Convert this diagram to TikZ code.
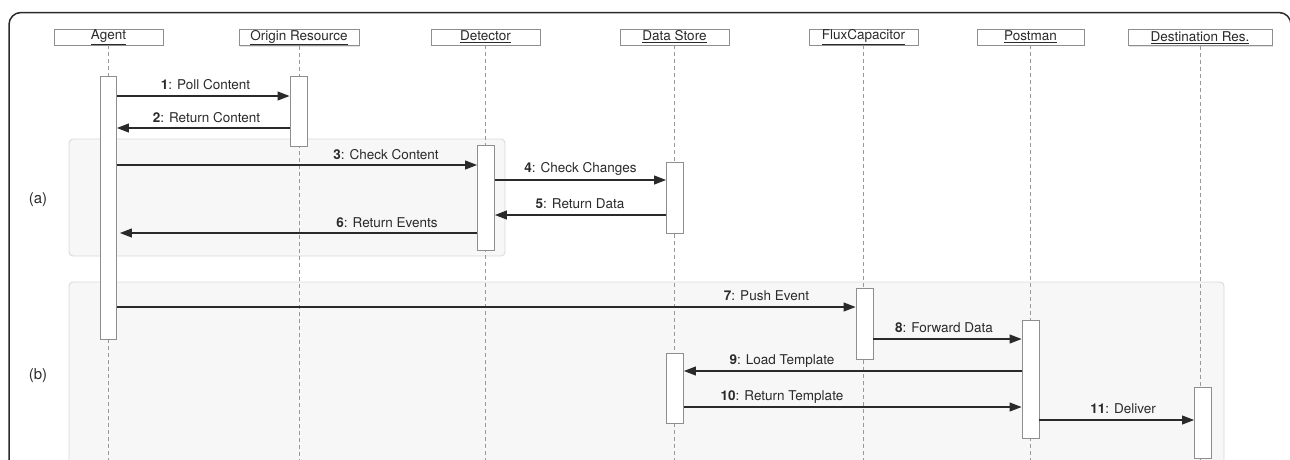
\documentclass[tikz,border=0pt]{standalone}
\usepackage{fontspec}
\setmainfont{TeX Gyre Heros}
\usetikzlibrary{arrows.meta,shadows}
\definecolor{boxGray}{HTML}{8E8E8E}
\definecolor{groupFill}{HTML}{F7F7F7}
\definecolor{groupEdge}{HTML}{DADADA}
\definecolor{inkDark}{HTML}{2A2A2A}

\begin{document}
\begin{tikzpicture}[
  x=1pt, y=-1pt,
  font=\fontsize{13.5}{16}\selectfont,
  frame/.style={draw=inkDark, line width=1.5pt, rounded corners=12pt},
  group/.style={draw=groupEdge, fill=groupFill, rounded corners=4pt, line width=0.9pt, inner sep=0pt},
  grouplabel/.style={font=\fontsize{15}{17}\selectfont, text=inkDark},
  header/.style={draw=boxGray, fill=white, line width=0.9pt, minimum height=16pt, inner sep=0pt, text=inkDark,
    drop shadow={shadow xshift=1pt, shadow yshift=-1.2pt, opacity=0.22}},
  lifeline/.style={draw=black!40, dash pattern=on 4pt off 3pt, line width=0.8pt},
  actbar/.style={draw=boxGray, fill=white, line width=0.9pt, minimum width=17pt, inner sep=0pt,
    drop shadow={shadow xshift=0.8pt, shadow yshift=-1pt, opacity=0.18}},
  msg/.style={-{Triangle[length=12pt, width=9pt]}, draw=inkDark, line width=1.1pt},
  msglabel/.style={text=inkDark, inner sep=1pt}
]
\useasboundingbox (0,0) rectangle (1290,459);
\begin{scope}
\clip (0,0) rectangle (1290,459);

\draw[frame] (9,12.5) rectangle (1291,520);

% interaction groups
\node[group, minimum width=436pt, minimum height=117pt] (grpa) at (287,197.5) {};
\node[group, minimum width=1155pt, minimum height=240pt] (grpb) at (646.5,402) {};
\node[grouplabel] (grpalabel) at (38,200) {(a)};
\node[grouplabel] (grpblabel) at (38,376) {(b)};

% participants
\node[header, minimum width=109pt] (agent) at (108.5,37) {\underline{Agent}};
\node[header, minimum width=120pt] (origin) at (299,37.5) {\underline{Origin Resource}};
\node[header, minimum width=109pt] (detector) at (485.5,37) {\underline{Detector}};
\node[header, minimum width=109pt] (store) at (674.5,37) {\underline{Data Store}};
\node[header, minimum width=109pt] (flux) at (863.5,37) {\underline{FluxCapacitor}};
\node[header, minimum width=107pt] (postman) at (1030.5,37) {\underline{Postman}};
\node[header, minimum width=144pt] (dest) at (1200,37.5) {\underline{Destination Res.}};

\coordinate (bottom) at (0,470);
\draw[lifeline] (agent.south) -- (agent.south |- bottom);
\draw[lifeline] (origin.south) -- (origin.south |- bottom);
\draw[lifeline] (detector.south) -- (detector.south |- bottom);
\draw[lifeline] (store.south) -- (store.south |- bottom);
\draw[lifeline] (flux.south) -- (flux.south |- bottom);
\draw[lifeline] (postman.south) -- (postman.south |- bottom);
\draw[lifeline] (dest.south) -- (dest.south |- bottom);

% activations
\node[actbar, minimum width=16pt, minimum height=263pt] (agentact) at (108.5,207.5) {};
\node[actbar, minimum height=70pt] (originact) at (298.5,111) {};
\node[actbar, minimum height=105pt] (detectoract) at (486,197.5) {};
\node[actbar, minimum height=71pt] (storeacta) at (675,197.5) {};
\node[actbar, minimum height=71pt] (fluxact) at (864.5,323.5) {};
\node[actbar, minimum height=118pt] (postmanact) at (1030.5,379) {};
\node[actbar, minimum height=70pt] (storeactb) at (675,388) {};
\node[actbar, minimum height=71pt] (destact) at (1203,422.5) {};

% messages
\coordinate (m1) at (0,96);
\coordinate (m2) at (0,128);
\coordinate (m3) at (0,165);
\coordinate (m4) at (0,180);
\coordinate (m5) at (0,215);
\coordinate (m6) at (0,233);
\coordinate (m7) at (0,307);
\coordinate (m8) at (0,339);
\coordinate (m9) at (0,371);
\coordinate (m10) at (0,407);
\coordinate (m11) at (0,420);

\draw[msg] (agentact.east |- m1) -- (originact.west |- m1);
\draw[msg] (originact.west |- m2) -- (agentact.east |- m2);
\draw[msg] (agentact.east |- m3) -- (detectoract.west |- m3);
\draw[msg] (detectoract.east |- m4) -- (storeacta.west |- m4);
\draw[msg] (storeacta.west |- m5) -- (detectoract.east |- m5);
\draw[msg, shorten >=3pt] (detectoract.west |- m6) -- (agentact.east |- m6);
\draw[msg] (agentact.east |- m7) -- (fluxact.west |- m7);
\draw[msg] (fluxact.east |- m8) -- (postmanact.west |- m8);
\draw[msg] (postmanact.west |- m9) -- (storeactb.east |- m9);
\draw[msg] (storeactb.east |- m10) -- (postmanact.west |- m10);
\draw[msg] (postmanact.east |- m11) -- (destact.west |- m11);

\node[msglabel] (lab1) at (205.5,85) {\textbf{1}: Poll Content};
\node[msglabel] (lab2) at (206.5,118) {\textbf{2}: Return Content};
\node[msglabel] (lab3) at (386,155) {\textbf{3}: Check Content};
\node[msglabel] (lab4) at (580.5,169) {\textbf{4}: Check Changes};
\node[msglabel] (lab5) at (580,204) {\textbf{5}: Return Data};
\node[msglabel] (lab6) at (387,223) {\textbf{6}: Return Events};
\node[msglabel] (lab7) at (766.5,296) {\textbf{7}: Push Event};
\node[msglabel] (lab8) at (944,328) {\textbf{8}: Forward Data};
\node[msglabel] (lab9) at (782,361) {\textbf{9}: Load Template};
\node[msglabel] (lab10) at (782,397) {\textbf{10}: Return Template};
\node[msglabel] (lab11) at (1123,409) {\textbf{11}: Deliver};
\end{scope}
\end{tikzpicture}
\end{document}
